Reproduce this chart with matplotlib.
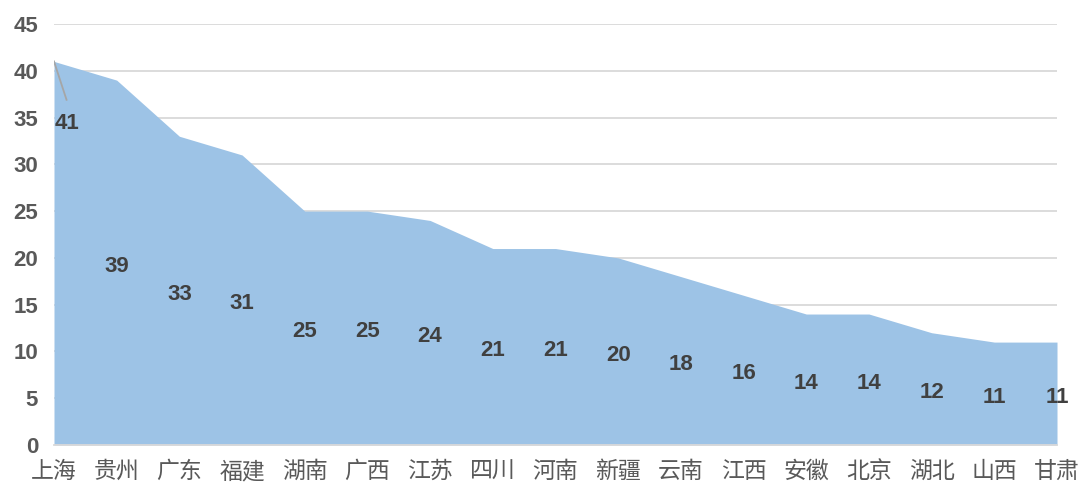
import matplotlib
matplotlib.use('Agg')
import matplotlib.pyplot as plt
import numpy as np

provinces = ['上海', '贵州', '广东', '福建', '湖南', '广西', '江苏', '四川', '河南',
             '新疆', '云南', '江西', '安徽', '北京', '湖北', '山西', '甘肃']
counts = [41, 39, 33, 31, 25, 25, 24, 21, 21, 20, 18, 16, 14, 14, 12, 11, 11]
yticks = [0, 5, 10, 15, 20, 25, 30, 35, 40, 45]

fig = plt.figure(figsize=(10.81, 4.86), dpi=100)
ax = fig.add_axes([54 / 1081, 1 - 445 / 486, (1057 - 54) / 1081, 421 / 486])

x = np.arange(len(provinces))
ax.fill_between(x, counts, 0, color='#9DC3E6', linewidth=0, zorder=2)

ax.set_xlim(0, len(provinces) - 1)
ax.set_ylim(0, 45)
ax.set_yticks(yticks)
ax.set_yticklabels([str(v) for v in yticks], fontsize=16, fontweight='bold',
                   color='#595959', family=['Liberation Sans', 'DejaVu Sans'])
ax.set_xticks(x)
ax.set_xticklabels(provinces, fontsize=16.5, color='#595959', fontweight='light',
                   family=['Noto Sans CJK SC', 'DejaVu Sans'])
ax.tick_params(axis='both', length=0)
ax.tick_params(axis='y', pad=11.5)
ax.tick_params(axis='x', pad=11)

ax.grid(axis='y', color='#D9D9D9', linewidth=1.3, zorder=0)
for s in ['left', 'right', 'top']:
    ax.spines[s].set_visible(False)
ax.spines['bottom'].set_color('#D9D9D9')
ax.spines['bottom'].set_linewidth(1.3)
ax.spines['bottom'].set_zorder(3)

# data labels at half height, first one moved with a leader line
for i, v in enumerate(counts):
    if i == 0:
        ax.plot([0, 0.2], [v, 36.9], color='#A6A6A6', linewidth=1.3, zorder=3)
        ax.text(0.2, 34.4, str(v), ha='center', va='center', fontsize=16,
                fontweight='bold', color='#404040', family='Liberation Sans', zorder=4)
    else:
        ax.text(i, v / 2 - 0.4, str(v), ha='center', va='center', fontsize=16,
                fontweight='bold', color='#404040', family='Liberation Sans',
                zorder=4, clip_on=False)

fig.savefig('out.png', dpi=100)
